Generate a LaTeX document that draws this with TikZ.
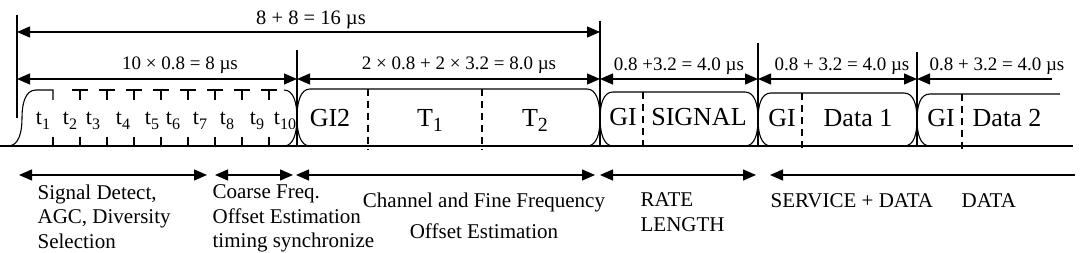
\documentclass[tikz,border=0pt]{standalone}
\usepackage{fontspec}
\setmainfont{Liberation Serif}
\usetikzlibrary{arrows.meta}
\newcommand{\lowsub}[2]{\raisebox{-5pt}{\fontsize{#1}{#1}\selectfont #2}}

\begin{document}
\begin{tikzpicture}[x=1pt, y=-1pt, line width=1.3pt,
    >={Triangle[length=13pt, width=11pt]},
    outline/.style={line width=1.1pt},
    sep/.style={line width=1.1pt, dash pattern=on 7pt off 5pt},
    spantext/.style={font=\fontsize{19}{22}\selectfont, anchor=base, inner sep=0pt},
    symtext/.style={font=\fontsize{26}{30}\selectfont, anchor=base, inner sep=0pt},
    slottext/.style={font=\fontsize{22}{26}\selectfont, anchor=base, inner sep=0pt},
    tasktext/.style={font=\fontsize{21}{24.5}\selectfont, align=left, anchor=north west, inner sep=0pt}]
  \useasboundingbox (0,0) rectangle (1080,253);
  % Time axis
  \coordinate (axisL) at (0,146);
  \coordinate (axisR) at (1073,146);
  \draw[line width=1.6pt] (axisL) -- (axisR);
  % Short training symbols t1..t10
  \draw[outline] (8,146) .. controls (19,146) and (22,132) .. (22,118)
    .. controls (22,104) and (25,90) .. (36,90) -- (53,90) -- (53,100);
  \foreach \x in {80,107,134,161,188,215,242,269} {
    \draw[outline] (\x-8,90) -- (\x+8,90) (\x,90) -- (\x,100);
  }
  \foreach \x in {53,80,107,134,161,188,215,242,269} {
    \draw[outline] (\x,137) -- (\x,146);
  }
  \draw[outline] (284,90) .. controls (294,90) and (297,104) .. (297,118)
    .. controls (297,132) and (300,146) .. (310,146);
  % Long training, SIGNAL and Data 1 (edges overlap at each boundary)
  \foreach \xl/\xr/\yt in {297/600/89, 600/758/92, 758/917/93} {
    \pgfmathsetmacro\ym{(\yt+146)/2}
    \draw[outline] (\xl-13,146) .. controls (\xl-3,146) and (\xl,\ym+14) .. (\xl,\ym)
      .. controls (\xl,\ym-14) and (\xl+3,\yt) .. (\xl+13,\yt) -- (\xr-13,\yt)
      .. controls (\xr-3,\yt) and (\xr,\ym-14) .. (\xr,\ym)
      .. controls (\xr,\ym+14) and (\xr+3,146) .. (\xr+13,146);
  }
  % Data 2, open to the right
  \draw[outline] (904,146) .. controls (914,146) and (917,134) .. (917,120)
    .. controls (917,106) and (920,94) .. (930,94) -- (1060,94);
  % Guard interval separators
  \foreach \x/\yt in {368/89, 482/89, 643/92, 802/93, 962/94} {
    \draw[sep] (\x,\yt) -- (\x,150);
  }
  % Symbol labels
  \foreach \i/\x in {1/43, 2/70, 3/93, 4/123, 5/152, 6/173, 7/200, 8/227, 9/257, 10/285} {
    \node[slottext] (t\i) at (\x,125) {t\lowsub{16}{\i}};
  }
  \node[symtext] (gi2)    at (330,127) {GI2};
  \node[symtext] (tone)   at (430,127) {T\lowsub{20}{1}};
  \node[symtext] (ttwo)   at (535,127) {T\lowsub{20}{2}};
  \node[symtext] (gisig)  at (623,126) {GI};
  \node[symtext] (signal) at (699,126) {SIGNAL};
  \node[symtext] (gid1)   at (782,127) {GI};
  \node[symtext] (data1)  at (858,127) {Data 1};
  \node[symtext] (gid2)   at (941,127) {GI};
  \node[symtext] (data2)  at (1007,127) {Data 2};
  % Boundary markers
  \foreach \n/\x/\ya/\yb in {0/17/15/118, 1/297/50/146, 2/600/21/146, 3/758/43/146, 4/917/52/146} {
    \coordinate (bt\n) at (\x,\ya);
    \coordinate (bb\n) at (\x,\yb);
    \draw (bt\n) -- (bb\n);
  }
  % Duration arrows
  \coordinate (p0) at (17,32);
  \coordinate (p1) at (600,32);
  \draw[<->] (p0) -- (p1);
  \node[spantext, font=\fontsize{20.5}{22}\selectfont] (total) at (311,25) {8 + 8 = 16 µs};
  \foreach \n/\x in {0/17, 1/297, 2/600, 3/758, 4/917, 5/1052} {
    \coordinate (m\n) at (\x,79);
  }
  \draw[<->] (m0) -- (m1);
  \draw[<->] (m1) -- (m2);
  \draw[<->] (m2) -- (m3);
  \draw[<->] (m3) -- (m4);
  \draw[<-] (m4) -- (m5);
  \node[spantext] (dshort)  at (180,70) {10 × 0.8 = 8 µs};
  \node[spantext] (dlong)   at (459,70) {2 × 0.8 + 2 × 3.2 = 8.0 µs};
  \node[spantext] (dsignal) at (679,71) {0.8 +3.2 = 4.0 µs};
  \node[spantext] (ddata1)  at (842,71) {0.8 + 3.2 = 4.0 µs};
  \node[spantext] (ddata2)  at (997,71) {0.8 + 3.2 = 4.0 µs};
  % Receiver tasks
  \foreach \n/\x in {0/19, 1/207, 2/215, 3/293, 4/296, 5/595, 6/600, 7/756, 8/770, 9/1075} {
    \coordinate (w\n) at (\x,175);
  }
  \draw[<->] (w0) -- (w1);
  \draw[<->] (w2) -- (w3);
  \draw[<->] (w4) -- (w5);
  \draw[<->] (w6) -- (w7);
  \draw[<-] (w8) -- (w9);
  \node[tasktext] (detect) at (37,184) {Signal Detect,\\AGC, Diversity\\Selection};
  \node[tasktext] (coarse) at (212,184) {Coarse Freq.\\Offset Estimation\\timing synchronize};
  \node[tasktext, align=center, anchor=north, font=\fontsize{21}{31}\selectfont] (fine) at (484,192.5)
    {Channel and Fine Frequency\\Offset Estimation};
  \node[tasktext, font=\fontsize{21}{25}\selectfont] (rate) at (640,191.5) {RATE\\LENGTH};
  \node[tasktext] (service) at (770,193) {SERVICE + DATA};
  \node[tasktext] (data) at (961,193) {DATA};
\end{tikzpicture}
\end{document}
